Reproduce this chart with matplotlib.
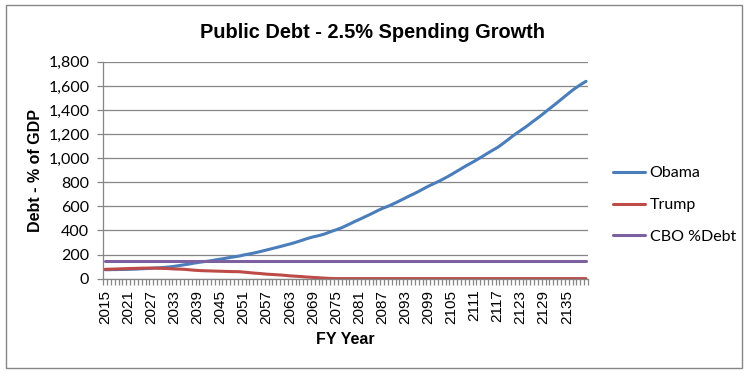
import matplotlib
matplotlib.use('Agg')
import matplotlib.pyplot as plt
import matplotlib.ticker as mticker
from matplotlib.patches import Rectangle

# FY years on the category axis
years = list(range(2015, 2141))

# Debt as % of GDP
obama = [
    74, 74, 75, 75, 76, 76, 77, 78, 79, 81,
    82, 84, 86, 88, 90, 92, 95, 98, 102, 107,
    112, 117, 122, 128, 133, 138, 142, 146, 151, 157,
    162, 167, 173, 178, 183, 188, 196, 202, 208, 215,
    222, 230, 238, 246, 254, 262, 270, 279, 287, 296,
    306, 316, 327, 337, 346, 353, 361, 370, 382, 394,
    405, 416, 430, 445, 460, 476, 490, 505, 520, 535,
    551, 567, 582, 594, 607, 622, 637, 653, 669, 685,
    700, 716, 733, 750, 767, 782, 797, 812, 829, 846,
    864, 883, 902, 921, 940, 957, 975, 994, 1013, 1033,
    1052, 1071, 1089, 1112, 1136, 1160, 1185, 1208, 1230, 1252,
    1275, 1300, 1323, 1347, 1372, 1398, 1423, 1448, 1474, 1500,
    1526, 1552, 1576, 1598, 1619, 1638,
]
trump = [
    77, 78, 79, 80, 81, 82, 83, 84, 85, 86,
    87, 87, 87, 87, 86, 85, 84, 82, 80, 79,
    78, 76, 73, 70, 68, 66, 65, 64, 63, 62,
    61, 60, 59, 58, 58, 57, 54, 51, 48, 45,
    43, 40, 37, 35, 33, 31, 29, 26, 23, 21,
    19, 17, 14, 12, 10, 8, 6, 4, 2, 1,
] + [0] * 66
cbo_debt = [144] * len(years)

series_names = ['Obama', 'Trump', 'CBO %Debt']
colors = ['#4A7EBB', '#BE4B48', '#7D60A0']

fig = plt.figure(figsize=(7.48, 3.77), dpi=100)
ax = fig.add_axes([0.138, 0.261, 0.648, 0.575])

x = list(range(len(years)))
for vals, name, c in zip([obama, trump, cbo_debt], series_names, colors):
    ax.plot(x, vals, color=c, linewidth=2.2, label=name, solid_capstyle='round')

# axes / grid
ax.set_xlim(-0.5, len(years) - 0.5)
ax.set_ylim(0, 1800)
ax.yaxis.set_major_locator(mticker.MultipleLocator(200))
ax.yaxis.set_major_formatter(mticker.FuncFormatter(lambda v, p: f'{int(v):,}'))
ax.grid(axis='y', color='#868686', linewidth=0.9)
ax.set_axisbelow(True)
for s in ['top', 'right']:
    ax.spines[s].set_visible(False)
for s in ['left', 'bottom']:
    ax.spines[s].set_color('#868686')
    ax.spines[s].set_linewidth(0.9)

# category labels every 6 years, tick marks between every category
ax.set_xticks(x[::6])
ax.set_xticklabels([str(y) for y in years[::6]], rotation=90,
                   fontfamily='Liberation Sans', fontsize=11)
ax.set_xticks([i - 0.5 for i in range(len(years) + 1)], minor=True)
ax.tick_params(axis='x', which='major', length=0, pad=8)
ax.tick_params(axis='x', which='minor', length=4, color='#868686', width=0.9)
ax.tick_params(axis='y', length=4, color='#868686', width=0.9, pad=6)
for lbl in ax.get_yticklabels():
    lbl.set_fontfamily('Lato')
    lbl.set_fontsize(11.5)

ax.set_ylabel('Debt - % of GDP', fontfamily='Liberation Sans', fontweight='bold',
              fontsize=11.5, labelpad=4)
ax.set_xlabel('FY Year', fontfamily='Liberation Sans', fontweight='bold',
              fontsize=11.5, labelpad=6)
fig.text(0.498, 0.915, 'Public Debt - 2.5% Spending Growth', ha='center', va='center',
         fontfamily='Liberation Sans', fontweight='bold', fontsize=14.4)

leg = ax.legend(loc='center left', bbox_to_anchor=(0.8, 0.456),
                bbox_transform=fig.transFigure, frameon=False,
                prop={'family': 'Lato', 'size': 11.5}, handlelength=2.0,
                handletextpad=0.3, labelspacing=1.1)

# outer chart border
fig.patches.append(Rectangle((0.008, 0.024), 0.984, 0.963, transform=fig.transFigure,
                             fill=False, edgecolor='#868686', linewidth=1))

fig.savefig('out.png', dpi=100, facecolor='white')
